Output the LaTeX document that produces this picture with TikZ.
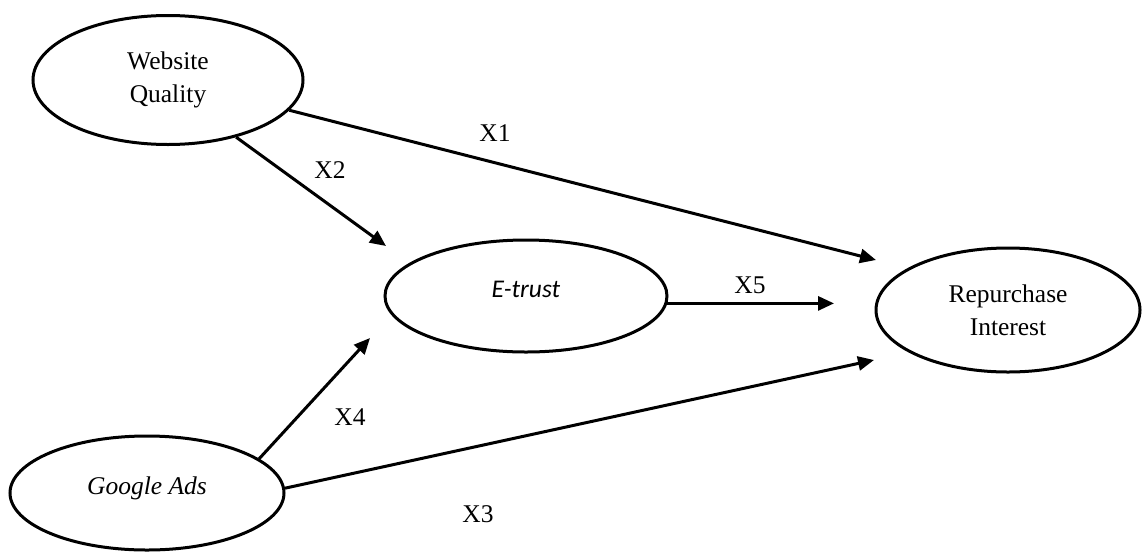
\documentclass[tikz,border=0pt]{standalone}
\usepackage{fontspec}
\setmainfont{Liberation Serif}
\newfontfamily\calibri{Carlito}
\usetikzlibrary{shapes.geometric,arrows.meta}
\tikzset{
  latent/.style={draw, ellipse, line width=3pt, inner sep=0pt, align=center,
    font=\fontsize{25.5}{33}\selectfont},
  arr/.style={line width=3pt, -{Triangle[length=16pt,width=14pt]}},
  lbl/.style={font=\fontsize{25.5}{30}\selectfont, inner sep=0pt}
}
\begin{document}
\begin{tikzpicture}[x=1pt,y=-1pt]
\useasboundingbox (0,0) rectangle (1142,552);
\node[latent, minimum width=270pt, minimum height=129pt] (web) at (168,80) {Website\\Quality};
\node[latent, minimum width=282pt, minimum height=112pt] (et) at (526,296) {\raisebox{13pt}{\calibri\itshape E-trust}};
\node[latent, minimum width=264pt, minimum height=124pt] (rep) at (1008,310) {Repurchase\\Interest};
\node[latent, minimum width=274pt, minimum height=114pt] (ga) at (147,493) {\raisebox{15pt}{\itshape Google Ads}};
\coordinate (e1) at (876,260);
\coordinate (e2) at (386,246);
\coordinate (e3) at (874,360);
\coordinate (e4) at (370,338);
\coordinate (e5) at (834,303);
\draw[arr] (web.-14) -- (e1);
\draw[arr] (web.-40) -- (e2);
\draw[arr] (ga.2.5) -- (e3);
\draw[arr] (ga.17.5) -- (e4);
\draw[arr] (et.-3) -- (et.-3 -| e5);
\node[lbl] (l1) at (495,133) {X1};
\node[lbl] (l2) at (330,170) {X2};
\node[lbl] (l3) at (478,514) {X3};
\node[lbl] (l4) at (350,417) {X4};
\node[lbl] (l5) at (750,285) {X5};
\end{tikzpicture}
\end{document}
